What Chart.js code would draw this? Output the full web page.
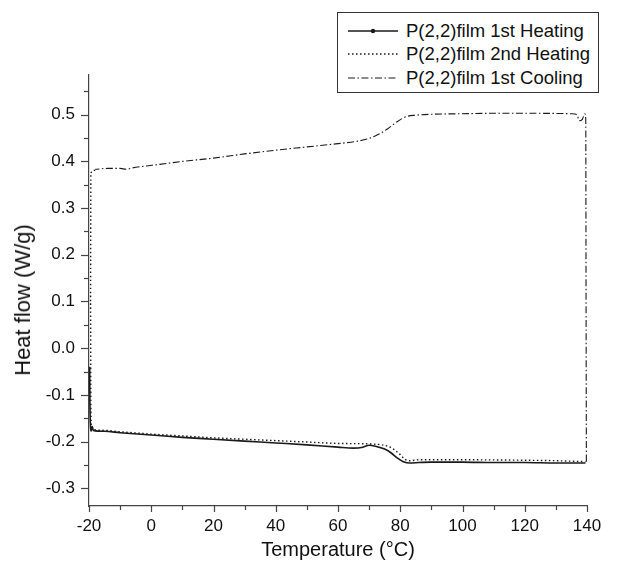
<!DOCTYPE html>
<html>
<head>
<meta charset="utf-8">
<script src="https://cdn.jsdelivr.net/npm/chart.js@4.4.1/dist/chart.umd.min.js"></script>
<style>
  html, body { margin: 0; padding: 0; background: #fff; }
  #wrap { position: relative; width: 627px; height: 564px; }
  #legend {
    position: absolute; left: 337px; top: 12px; width: 260px; height: 79px;
    border: 1px solid #333; background: #fff;
    font-family: "Liberation Sans", Arial, sans-serif; font-size: 18.5px; color: #111;
  }
  .row { position: absolute; left: 0; height: 22px; line-height: 22px; white-space: nowrap; }
  .row svg { position: absolute; left: 10px; top: 5px; }
  .row span { position: absolute; left: 68px; top: 0; }
  #ytitle {
    position: absolute; left: 23px; top: 300px; width: 0; height: 0;
    font-family: "Liberation Sans", Arial, sans-serif; font-size: 22px; color: #111;
  }
  #ytitle span {
    position: absolute; left: 0; top: 0; white-space: nowrap;
    transform: translate(-50%, -50%) rotate(-90deg); line-height: 1;
  }
</style>
</head>
<body>
<div id="wrap">
  <canvas id="c" width="627" height="564"></canvas>
  <div id="legend"></div>
  <div id="ytitle"><span id="ytitleText"></span></div>
</div>
<script>
// ---- data (Temperature °C, Heat flow W/g) ----
const seriesNames = ["P(2,2)film 1st Heating", "P(2,2)film 2nd Heating", "P(2,2)film 1st Cooling"];
const xTitle = "Temperature (°C)";
const yTitle = "Heat flow (W/g)";

const heat1T = [-19.8,-19.7,-19.5,-19.3,-19.0,-18.6,-15,-10,0,10,20,30,40,50,60,65,68,70,72,75,77,79,81,83,86,90,100,110,120,130,139.5];
const heat1V = [-0.04,-0.12,-0.17,-0.178,-0.168,-0.176,-0.178,-0.181,-0.186,-0.191,-0.195,-0.199,-0.203,-0.207,-0.212,-0.214,-0.212,-0.208,-0.210,-0.216,-0.224,-0.235,-0.243,-0.246,-0.245,-0.244,-0.244,-0.245,-0.245,-0.246,-0.246];

const heat2T = [-18.0,-19.4,-19.5,-19.4,-19.2,-18.8,-15,-10,0,10,20,30,40,50,60,70,74,76,78,80,81.5,83,86,100,120,130,139.5];
const heat2V = [0.381,0.375,0.10,-0.12,-0.168,-0.174,-0.176,-0.179,-0.184,-0.188,-0.192,-0.195,-0.198,-0.201,-0.204,-0.205,-0.207,-0.210,-0.217,-0.228,-0.238,-0.241,-0.239,-0.239,-0.240,-0.241,-0.243];

const coolT = [139.8,139.7,139.6,139.3,138.5,137.5,136.8,135,120,110,100,90,85,82,79,76,73,70,66,60,50,40,30,20,10,2,-2,-6,-8,-10,-14,-18];
const coolV = [-0.243,0.10,0.49,0.502,0.490,0.487,0.500,0.502,0.503,0.503,0.502,0.501,0.499,0.496,0.485,0.470,0.458,0.449,0.443,0.438,0.431,0.424,0.416,0.407,0.400,0.393,0.390,0.386,0.383,0.385,0.385,0.383];

const xTickLabels = ["-20","0","20","40","60","80","100","120","140"];
const yTickLabels = ["-0.3","-0.2","-0.1","0.0","0.1","0.2","0.3","0.4","0.5"];

const xMin = -20, xMax = 140, yMin = -0.338, yMax = 0.585;

function pts(T, V) { return T.map((t, i) => ({ x: t, y: V[i] })); }

const FONT = "'Liberation Sans', Arial, sans-serif";
const LINE = '#1a1a1a';
const AX = '#444';

const styles = [
  { dash: [], width: 1.6 },
  { dash: [1.5, 2.5], width: 1.4 },
  { dash: [7, 2.5, 1.5, 2.5], width: 1.1 }
];

// minor/major tick plugin using the library's scales
const tickPlugin = {
  id: 'minorMajorTicks',
  afterDraw(chart) {
    const ctx = chart.ctx;
    const xs = chart.scales.x, ys = chart.scales.y;
    ctx.save();
    ctx.strokeStyle = AX;
    ctx.lineWidth = 1.2;
    xs.ticks.forEach(t => {
      const px = Math.round(xs.getPixelForValue(t.value)) + 0.5;
      const major = Math.abs(t.value / 20 - Math.round(t.value / 20)) < 1e-6;
      ctx.beginPath();
      ctx.moveTo(px, xs.top);
      ctx.lineTo(px, xs.top + (major ? 6 : 4));
      ctx.stroke();
    });
    ys.ticks.forEach(t => {
      const py = Math.round(ys.getPixelForValue(t.value)) + 0.5;
      const major = Math.abs(t.value * 10 - Math.round(t.value * 10)) < 1e-6;
      ctx.beginPath();
      ctx.moveTo(ys.right, py);
      ctx.lineTo(ys.right - (major ? 8 : 5), py);
      ctx.stroke();
    });
    ctx.restore();
  }
};

const data = {
  datasets: [
    { label: seriesNames[0], data: pts(heat1T, heat1V) },
    { label: seriesNames[1], data: pts(heat2T, heat2V) },
    { label: seriesNames[2], data: pts(coolT, coolV) }
  ].map((d, i) => Object.assign(d, {
    borderColor: LINE, borderWidth: styles[i].width, borderDash: styles[i].dash,
    pointRadius: 0, showLine: true, fill: false, tension: 0.2, cubicInterpolationMode: 'monotone'
  }))
};

function xLabel(v) {
  const s = String(Math.round(v));
  return xTickLabels.includes(s) ? s : '';
}
function yLabel(v) {
  if (Math.abs(v * 10 - Math.round(v * 10)) > 1e-6) return '';
  let s = (Math.round(v * 10) / 10).toFixed(1);
  if (s === '-0.0') s = '0.0';
  return yTickLabels.includes(s) ? s : '';
}

new Chart(document.getElementById('c'), {
  type: 'scatter',
  data,
  plugins: [tickPlugin],
  options: {
    responsive: false,
    animation: false,
    layout: { padding: { top: 75, right: 40, left: 0, bottom: 0 } },
    plugins: { legend: { display: false }, tooltip: { enabled: false } },
    scales: {
      x: {
        type: 'linear', min: xMin, max: xMax,
        afterFit(s) { s.height = 58; },
        ticks: { stepSize: 10, autoSkip: false, maxRotation: 0, padding: 4, color: '#111',
                 font: { family: FONT, size: 17 }, callback: xLabel, includeBounds: false },
        grid: { display: true, drawOnChartArea: false, drawTicks: true, tickLength: 6, tickColor: 'rgba(0,0,0,0)' },
        border: { display: true, color: AX, width: 1.2 },
        title: { display: true, text: xTitle, color: '#111',
                 font: { family: FONT, size: 20 }, padding: { top: 0, bottom: 2 } }
      },
      y: {
        type: 'linear', min: yMin, max: yMax,
        afterFit(s) { s.width = 89; },
        ticks: { stepSize: 0.05, autoSkip: false, padding: 6, color: '#111',
                 font: { family: FONT, size: 17 }, callback: yLabel, includeBounds: false },
        grid: { display: true, drawOnChartArea: false, drawTicks: true, tickLength: 8, tickColor: 'rgba(0,0,0,0)' },
        border: { display: true, color: AX, width: 1.2 },
        title: { display: false }
      }
    }
  }
});

document.getElementById('ytitleText').textContent = yTitle;

// HTML legend
const legend = document.getElementById('legend');
const rowTops = [7, 30, 54];
seriesNames.forEach((name, i) => {
  const row = document.createElement('div');
  row.className = 'row';
  row.style.top = rowTops[i] + 'px';
  const st = styles[i];
  const dash = st.dash.length ? `stroke-dasharray="${st.dash.join(' ')}"` : '';
  const marker = i === 0 ? '<circle cx="25" cy="6" r="2.2" fill="#1a1a1a"/>' : '';
  row.innerHTML = `<svg width="50" height="12"><line x1="0" y1="6" x2="50" y2="6" stroke="#1a1a1a" stroke-width="${st.width}" ${dash}/>${marker}</svg><span>${name}</span>`;
  legend.appendChild(row);
});
</script>
</body>
</html>
